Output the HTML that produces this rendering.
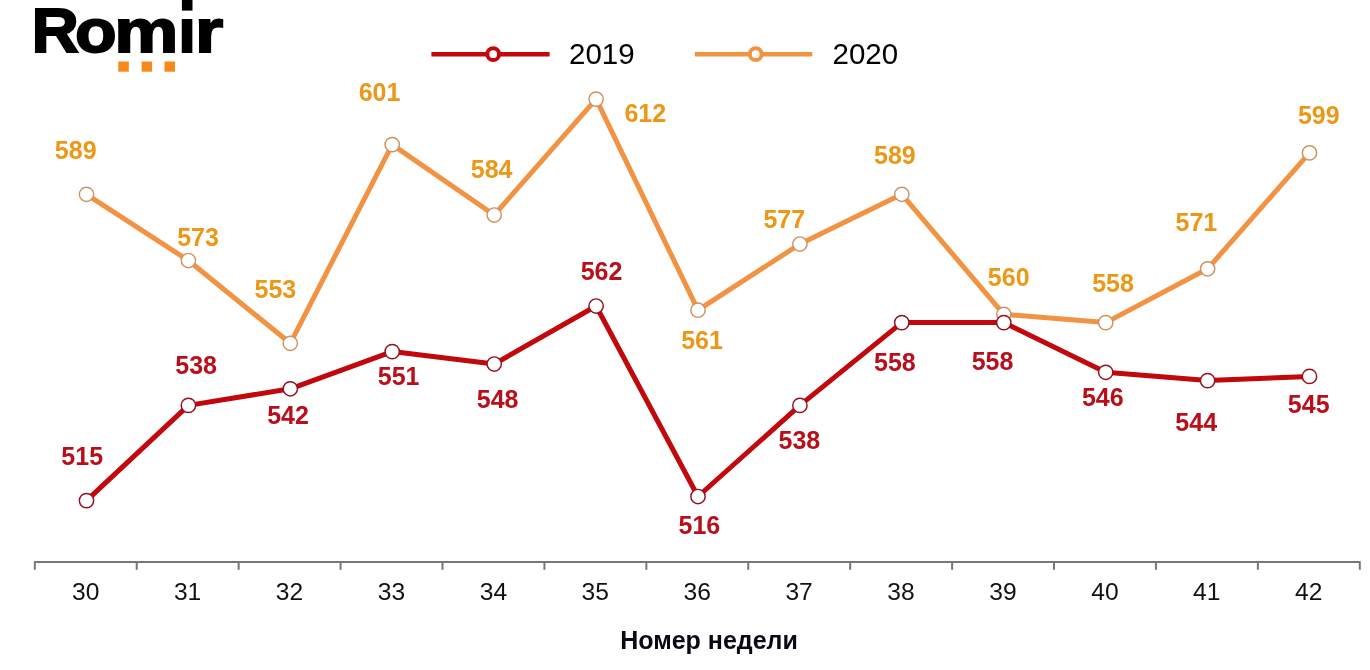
<!DOCTYPE html>
<html lang="ru"><head><meta charset="utf-8"><title>Romir</title>
<style>
html,body{margin:0;padding:0;background:#fff;}
body{width:1370px;height:670px;overflow:hidden;}
svg{display:block;font-family:"Liberation Sans",sans-serif;}
.lb{font-size:25px;font-weight:bold;text-anchor:middle;}
.cat{font-size:24.6px;text-anchor:middle;fill:#111;}
.leg{font-size:29.5px;fill:#000;}
</style></head><body>
<svg width="1370" height="670" viewBox="0 0 1370 670">
<rect width="1370" height="670" fill="#fff"/>
<g id="logo"><text y="52.3" font-size="63" font-weight="bold" fill="#000" stroke="#000" stroke-width="1.8" stroke-linejoin="miter"><tspan x="31.44" font-size="63.3" textLength="47.48" lengthAdjust="spacingAndGlyphs">R</tspan><tspan x="75.02" font-size="62.0" textLength="41.65" lengthAdjust="spacingAndGlyphs">o</tspan><tspan x="114.29" font-size="62.0" textLength="64.14" lengthAdjust="spacingAndGlyphs">m</tspan><tspan x="178.37" font-size="62.0" textLength="17.71" lengthAdjust="spacingAndGlyphs">i</tspan><tspan x="195.07" font-size="62.0" textLength="28.28" lengthAdjust="spacingAndGlyphs">r</tspan></text><rect x="178" y="0" width="19" height="15.5" fill="#fff"/><rect x="181.9" y="-2" width="10.6" height="12.6" fill="#000"/><rect x="118.3" y="61.5" width="10.5" height="10.2" fill="#F7891A"/><rect x="141.6" y="61.5" width="10.5" height="10.2" fill="#F7891A"/><rect x="164.5" y="61.5" width="10.5" height="10.2" fill="#F7891A"/></g>
<g id="legend"><line x1="431.4" y1="54.2" x2="549.6" y2="54.2" stroke="#C2070D" stroke-width="4.6"/><circle cx="493.2" cy="54.2" r="5.9" fill="#fff" stroke="#C2070D" stroke-width="4"/><text class="leg" x="569" y="64">2019</text><line x1="694.9" y1="54.2" x2="812.3" y2="54.2" stroke="#F29344" stroke-width="4.6"/><circle cx="755.7" cy="54.2" r="5.9" fill="#fff" stroke="#F29344" stroke-width="4"/><text class="leg" x="832.5" y="64">2020</text></g>
<g id="axis" stroke="#777" stroke-width="2" fill="none" stroke-linejoin="round"><path d="M34.80,569.8000000000001 V562.1 H1359.80 V569.8000000000001"/><line x1="136.72" y1="562.1" x2="136.72" y2="569.8000000000001"/><line x1="238.65" y1="562.1" x2="238.65" y2="569.8000000000001"/><line x1="340.57" y1="562.1" x2="340.57" y2="569.8000000000001"/><line x1="442.49" y1="562.1" x2="442.49" y2="569.8000000000001"/><line x1="544.42" y1="562.1" x2="544.42" y2="569.8000000000001"/><line x1="646.34" y1="562.1" x2="646.34" y2="569.8000000000001"/><line x1="748.26" y1="562.1" x2="748.26" y2="569.8000000000001"/><line x1="850.18" y1="562.1" x2="850.18" y2="569.8000000000001"/><line x1="952.11" y1="562.1" x2="952.11" y2="569.8000000000001"/><line x1="1054.03" y1="562.1" x2="1054.03" y2="569.8000000000001"/><line x1="1155.95" y1="562.1" x2="1155.95" y2="569.8000000000001"/><line x1="1257.88" y1="562.1" x2="1257.88" y2="569.8000000000001"/></g>
<g id="cats"><text class="cat" x="85.7" y="599.5">30</text><text class="cat" x="187.6" y="599.5">31</text><text class="cat" x="289.5" y="599.5">32</text><text class="cat" x="391.4" y="599.5">33</text><text class="cat" x="493.4" y="599.5">34</text><text class="cat" x="595.3" y="599.5">35</text><text class="cat" x="697.2" y="599.5">36</text><text class="cat" x="799.1" y="599.5">37</text><text class="cat" x="901.0" y="599.5">38</text><text class="cat" x="1003.0" y="599.5">39</text><text class="cat" x="1104.9" y="599.5">40</text><text class="cat" x="1206.8" y="599.5">41</text><text class="cat" x="1308.7" y="599.5">42</text></g>
<text x="709" y="649" font-size="25" font-weight="bold" text-anchor="middle" fill="#0a0a14">Номер недели</text>
<g id="s2020"><polyline points="86.5,194.3 188.4,260.5 290.3,343.3 392.2,144.6 494.2,215.0 596.1,99.1 698.0,310.2 799.9,244.0 901.8,194.3 1003.8,314.3 1105.7,322.6 1207.6,268.8 1309.5,152.9" fill="none" stroke="#F29344" stroke-width="5" stroke-linejoin="round" stroke-linecap="round"/><circle cx="86.5" cy="194.3" r="7.15" fill="#fff" stroke="#CC9360" stroke-width="1.45"/><circle cx="188.4" cy="260.5" r="7.15" fill="#fff" stroke="#CC9360" stroke-width="1.45"/><circle cx="290.3" cy="343.3" r="7.15" fill="#fff" stroke="#CC9360" stroke-width="1.45"/><circle cx="392.2" cy="144.6" r="7.15" fill="#fff" stroke="#CC9360" stroke-width="1.45"/><circle cx="494.2" cy="215.0" r="7.15" fill="#fff" stroke="#CC9360" stroke-width="1.45"/><circle cx="596.1" cy="99.1" r="7.15" fill="#fff" stroke="#CC9360" stroke-width="1.45"/><circle cx="698.0" cy="310.2" r="7.15" fill="#fff" stroke="#CC9360" stroke-width="1.45"/><circle cx="799.9" cy="244.0" r="7.15" fill="#fff" stroke="#CC9360" stroke-width="1.45"/><circle cx="901.8" cy="194.3" r="7.15" fill="#fff" stroke="#CC9360" stroke-width="1.45"/><circle cx="1003.8" cy="314.3" r="7.15" fill="#fff" stroke="#CC9360" stroke-width="1.45"/><circle cx="1105.7" cy="322.6" r="7.15" fill="#fff" stroke="#CC9360" stroke-width="1.45"/><circle cx="1207.6" cy="268.8" r="7.15" fill="#fff" stroke="#CC9360" stroke-width="1.45"/><circle cx="1309.5" cy="152.9" r="7.15" fill="#fff" stroke="#CC9360" stroke-width="1.45"/><text class="lb" x="75.7" y="159.4" fill="#EC9716">589</text><text class="lb" x="198" y="245.5" fill="#EC9716">573</text><text class="lb" x="275.4" y="297.6" fill="#EC9716">553</text><text class="lb" x="379.5" y="100.8" fill="#EC9716">601</text><text class="lb" x="491.6" y="177.5" fill="#EC9716">584</text><text class="lb" x="645.3" y="121.5" fill="#EC9716">612</text><text class="lb" x="702" y="349.3" fill="#EC9716">561</text><text class="lb" x="784.3" y="228" fill="#EC9716">577</text><text class="lb" x="894.9" y="163.8" fill="#EC9716">589</text><text class="lb" x="1008.7" y="285.7" fill="#EC9716">560</text><text class="lb" x="1113" y="291.5" fill="#EC9716">558</text><text class="lb" x="1196.4" y="231" fill="#EC9716">571</text><text class="lb" x="1318.8" y="124" fill="#EC9716">599</text></g>
<g id="s2019"><polyline points="86.5,500.6 188.4,405.4 290.3,388.8 392.2,351.6 494.2,364.0 596.1,306.0 698.0,496.5 799.9,405.4 901.8,322.6 1003.8,322.6 1105.7,372.3 1207.6,380.6 1309.5,376.4" fill="none" stroke="#C2070D" stroke-width="5" stroke-linejoin="round" stroke-linecap="round"/><circle cx="86.5" cy="500.6" r="7.15" fill="#fff" stroke="#95101E" stroke-width="1.45"/><circle cx="188.4" cy="405.4" r="7.15" fill="#fff" stroke="#95101E" stroke-width="1.45"/><circle cx="290.3" cy="388.8" r="7.15" fill="#fff" stroke="#95101E" stroke-width="1.45"/><circle cx="392.2" cy="351.6" r="7.15" fill="#fff" stroke="#95101E" stroke-width="1.45"/><circle cx="494.2" cy="364.0" r="7.15" fill="#fff" stroke="#95101E" stroke-width="1.45"/><circle cx="596.1" cy="306.0" r="7.15" fill="#fff" stroke="#95101E" stroke-width="1.45"/><circle cx="698.0" cy="496.5" r="7.15" fill="#fff" stroke="#95101E" stroke-width="1.45"/><circle cx="799.9" cy="405.4" r="7.15" fill="#fff" stroke="#95101E" stroke-width="1.45"/><circle cx="901.8" cy="322.6" r="7.15" fill="#fff" stroke="#95101E" stroke-width="1.45"/><circle cx="1003.8" cy="322.6" r="7.15" fill="#fff" stroke="#95101E" stroke-width="1.45"/><circle cx="1105.7" cy="372.3" r="7.15" fill="#fff" stroke="#95101E" stroke-width="1.45"/><circle cx="1207.6" cy="380.6" r="7.15" fill="#fff" stroke="#95101E" stroke-width="1.45"/><circle cx="1309.5" cy="376.4" r="7.15" fill="#fff" stroke="#95101E" stroke-width="1.45"/><text class="lb" x="82.2" y="464.8" fill="#BA0F1B">515</text><text class="lb" x="196.1" y="374" fill="#BA0F1B">538</text><text class="lb" x="288" y="424" fill="#BA0F1B">542</text><text class="lb" x="398.6" y="385" fill="#BA0F1B">551</text><text class="lb" x="497.6" y="407.8" fill="#BA0F1B">548</text><text class="lb" x="601.5" y="280.3" fill="#BA0F1B">562</text><text class="lb" x="699.4" y="534" fill="#BA0F1B">516</text><text class="lb" x="799.4" y="448.5" fill="#BA0F1B">538</text><text class="lb" x="894.9" y="370.5" fill="#BA0F1B">558</text><text class="lb" x="992.5" y="370" fill="#BA0F1B">558</text><text class="lb" x="1102.8" y="405.8" fill="#BA0F1B">546</text><text class="lb" x="1196.2" y="430.8" fill="#BA0F1B">544</text><text class="lb" x="1308.7" y="412.8" fill="#BA0F1B">545</text></g>
</svg></body></html>
